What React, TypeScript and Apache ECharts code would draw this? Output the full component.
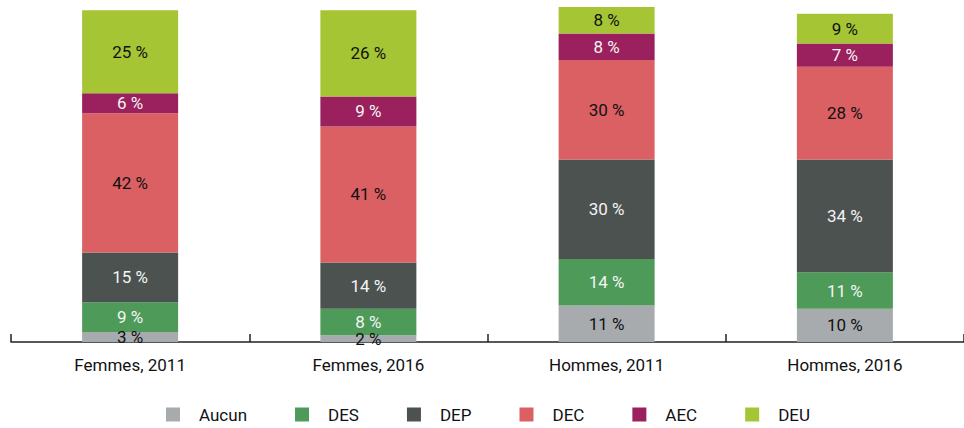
import React, { useEffect, useRef } from "react";
import * as echarts from "echarts";

const categories = ["Femmes, 2011", "Femmes, 2016", "Hommes, 2011", "Hommes, 2016"];
const seriesNames = ["Aucun", "DES", "DEP", "DEC", "AEC", "DEU"];
const aucun = [3, 2, 11, 10];
const des = [9, 8, 14, 11];
const dep = [15, 14, 30, 34];
const dec = [42, 41, 30, 28];
const aec = [6, 9, 8, 7];
const deu = [25, 26, 8, 9];
const values = [aucun, des, dep, dec, aec, deu];
const colors = ["#A7ABAE", "#4D9A59", "#4C5250", "#DB6064", "#9A205E", "#A5C535"];
const labelColors = ["#111111", "#F4F4F4", "#F4F4F4", "#111111", "#F4F4F4", "#111111"];

const FONT = 'Roboto, "Liberation Sans", sans-serif';

export default function App() {
  const ref = useRef<HTMLDivElement>(null);
  useEffect(() => {
    if (!ref.current) return;
    const chart = echarts.init(ref.current, null, { renderer: "svg" });
    chart.setOption({
      animation: false,
      textStyle: { fontFamily: FONT },
      grid: { left: 11, right: -3, top: 7, bottom: 86, containLabel: false },
      legend: {
        data: seriesNames,
        left: 161,
        top: 401,
        icon: "path://M0,0L14,0L14,14L0,14Z M28,14",
        itemWidth: 28,
        itemHeight: 14,
        itemGap: 48,
        textStyle: { fontFamily: FONT, fontSize: 17, color: "#111" },
      },
      xAxis: {
        type: "category",
        data: categories,
        axisLine: { show: true, lineStyle: { color: "#231F20", width: 1.5 } },
        axisTick: { show: true, inside: true, length: 8, alignWithLabel: false, lineStyle: { color: "#231F20", width: 1.5 } },
        axisLabel: { fontFamily: FONT, fontSize: 17, color: "#111", margin: 14 },
      },
      yAxis: { type: "value", min: 0, max: 101, show: false, splitLine: { show: false } },
      series: seriesNames.map((name, i) => ({
        name,
        type: "bar",
        stack: "total",
        barWidth: 96,
        data: values[i],
        itemStyle: { color: colors[i] },
        label: {
          show: true,
          position: "inside",
          formatter: (p: any) => `${p.value} %`,
          fontFamily: FONT,
          fontSize: 17,
          color: labelColors[i],
        },
      })),
    });
    return () => chart.dispose();
  }, []);
  return <div ref={ref} style={{ width: 964, height: 428, position: "absolute", left: 0, top: 0 }} />;
}
